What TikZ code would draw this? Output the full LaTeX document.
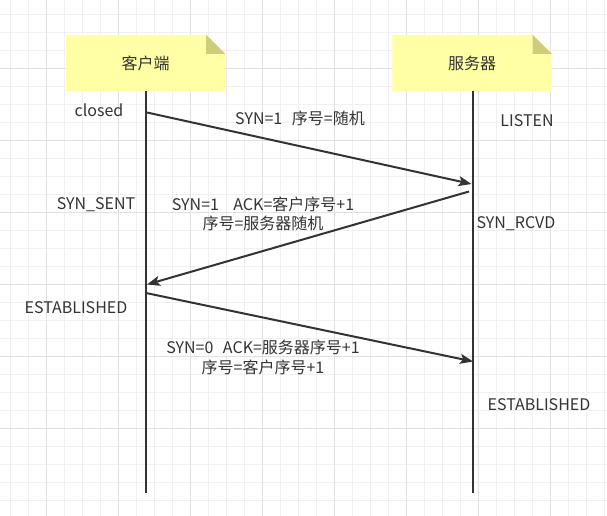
\documentclass[tikz,border=0pt]{standalone}
\usepackage{fontspec}
\setmainfont{Noto Sans CJK SC}
\usetikzlibrary{arrows.meta}
\definecolor{gridminor}{RGB}{240,240,240}
\definecolor{gridmajor}{RGB}{225,225,225}
\definecolor{notefill}{RGB}{255,255,166}
\definecolor{notefold}{RGB}{205,205,122}
\definecolor{ink}{RGB}{51,51,51}
\newcommand{\gapsp}{\hspace{0.3em}}
\begin{document}
\begin{tikzpicture}[x=1pt,y=-1pt,
  lbl/.style={text=ink,font=\fontsize{16}{19.5}\selectfont,inner sep=0pt,align=center},
  notebox/.style={minimum width=159pt,minimum height=56pt,inner sep=0pt,text=ink,font=\fontsize{16}{18}\selectfont},
  lifeline/.style={draw=ink,line width=2pt},
  msg/.style={draw=ink,line width=2pt,-{Stealth[length=13pt,width=10pt,inset=3pt]}}]
\useasboundingbox (0,0) rectangle (607,516);
\fill[white] (0,0) rectangle (607,516);
\foreach \i in {0,...,33} \draw[gridminor,line width=1pt] (10.3+18*\i,0) -- (10.3+18*\i,516);
\foreach \i in {0,...,28} \draw[gridminor,line width=1pt] (0,14.3+18*\i) -- (607,14.3+18*\i);
\foreach \i in {0,...,7} \draw[gridmajor,line width=1pt] (46.3+72*\i,0) -- (46.3+72*\i,516);
\foreach \i in {0,...,5} \draw[gridmajor,line width=1pt] (0,68.3+72*\i) -- (607,68.3+72*\i);
% notes
\foreach \nm/\cx/\tx in {client/145.5/客户端, server/472/服务器} {
  \node[notebox] (\nm) at (\cx,63) {};
  \fill[notefill] (\nm.north west) -- ([xshift=-19pt]\nm.north east) -- ([yshift=-19pt]\nm.north east) -- (\nm.south east) -- (\nm.south west) -- cycle;
  \fill[notefold] ([xshift=-19pt]\nm.north east) -- ([xshift=-19pt,yshift=-19pt]\nm.north east) -- ([yshift=-19pt]\nm.north east) -- cycle;
  \node[notebox] at (\nm.center) {\tx};
}
% lifelines
\coordinate (cbot) at (146,493);
\coordinate (sbot) at (472.5,493);
\draw[lifeline] (client.south -| cbot) -- (cbot);
\draw[lifeline] (server.south -| sbot) -- (sbot);
% message endpoints
\coordinate (m1s) at (147,112.5);
\coordinate (m1e) at (471.5,184);
\coordinate (m2s) at (469,191.5);
\coordinate (m2e) at (147,284.5);
\coordinate (m3s) at (146,293);
\coordinate (m3e) at (473,361.5);
\draw[msg] (m1s) -- (m1e);
\draw[msg] (m2s) -- (m2e);
\draw[msg] (m3s) -- (m3e);
% labels
\node[lbl] (closed) at (99,110) {closed};
\node[lbl] (l1) at (300,118) {SYN=1\gapsp\gapsp 序号=随机};
\node[lbl] (listen) at (527,121) {LISTEN};
\node[lbl] (synsent) at (96,205) {SYN\_SENT};
\node[lbl] (l2) at (263,214) {SYN=1\gapsp\gapsp\gapsp ACK=客户序号+1\\序号=服务器随机};
\node[lbl] (synrcvd) at (516,224) {SYN\_RCVD};
\node[lbl] (estc) at (76,308) {ESTABLISHED};
\node[lbl] (l3) at (263,357.5) {SYN=0\gapsp\gapsp ACK=服务器序号+1\\序号=客户序号+1};
\node[lbl] (ests) at (539,405) {ESTABLISHED};
\end{tikzpicture}
\end{document}
